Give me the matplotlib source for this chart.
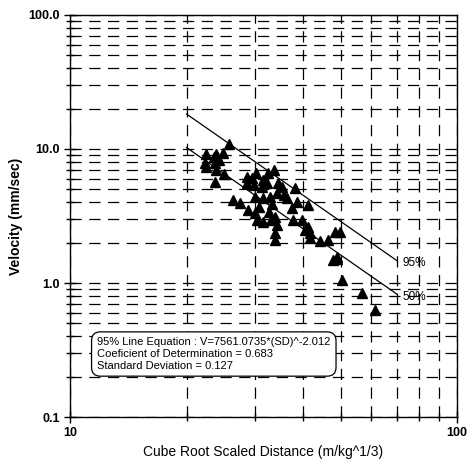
import matplotlib
matplotlib.use('Agg')
import matplotlib.pyplot as plt
import numpy as np

plt.rcParams['font.family'] = ['Liberation Sans', 'DejaVu Sans']

# scaled distance (m/kg^1/3) and peak velocity (mm/sec)
sd = [25.8, 22.5, 23.9, 24.8, 23.5, 22.3, 23.7, 24.3, 22.5, 23.9,
      25.0, 23.7, 26.4, 27.5, 28.9, 28.6, 30.2, 31.6, 32.5, 33.7,
      29.8, 31.3, 32.2, 34.5, 30.1, 31.6, 32.9, 34.2, 35.2, 36.3,
      30.1, 30.4, 31.6, 33.0, 33.9, 34.2, 33.9, 33.9, 38.1, 38.5,
      37.4, 37.8, 39.7, 41.3, 40.5, 41.3, 41.7, 41.7, 44.3, 46.5,
      48.4, 49.9, 47.9, 49.1, 48.9, 50.4, 56.7, 61.4, 28.6, 30.8,
      33.3, 35.8, 29.5, 32.6]
vel = [10.9, 9.18, 9.18, 9.28, 8.77, 7.82, 7.82, 8.28, 7.38, 6.97,
       6.51, 5.70, 4.16, 3.93, 3.51, 6.22, 6.58, 5.87, 6.58, 6.97,
       5.39, 5.24, 5.54, 5.54, 4.41, 4.28, 4.41, 4.67, 5.24, 4.28,
       3.31, 2.95, 2.87, 2.95, 3.13, 2.71, 2.35, 2.09, 5.09, 4.05,
       3.61, 2.95, 2.95, 3.82, 2.49, 2.63, 2.35, 2.18, 2.07, 2.09,
       2.42, 2.42, 1.48, 1.50, 1.57, 1.05, 0.837, 0.629, 5.54, 3.70,
       3.90, 4.50, 6.10, 3.40]

# attenuation lines V = k * SD^b
k95 = 7561.0735
k50 = 4250.0
b = -2.012
line_sd = [20, 70]

fig = plt.figure(figsize=(4.68, 4.67), dpi=100)
ax = fig.add_axes([0.1496, 0.107, 0.8269, 0.861])
ax.set_xscale('log')
ax.set_yscale('log')
ax.set_xlim(10, 100)
ax.set_ylim(0.1, 100)

ax.grid(True, which='both', color='black', linestyle=(0, (9, 6)), linewidth=0.9)
ax.set_axisbelow(True)

xs = np.array(line_sd, dtype=float)
ax.plot(xs, k95 * xs ** b, color='black', linewidth=0.9)
ax.plot(xs, k50 * xs ** b, color='black', linewidth=0.9)
ax.plot(sd, vel, '^', color='black', markersize=7.5, linestyle='none')

ax.text(72.4, 1.41, '95%', fontsize=8.5, ha='left', va='center')
ax.text(72.4, 0.787, '50%', fontsize=8.5, ha='left', va='center')

ax.text(0.07, 0.198,
        "95% Line Equation : V=7561.0735*(SD)^-2.012\n"
        "Coeficient of Determination = 0.683\n"
        "Standard Deviation = 0.127",
        transform=ax.transAxes, fontsize=8, ha='left', va='top', linespacing=1.2,
        bbox=dict(boxstyle='round,pad=0.5,rounding_size=0.8', facecolor='white',
                  edgecolor='black', linewidth=0.9))

ax.set_xticks([10, 100])
ax.set_xticklabels(['10', '100'])
ax.set_yticks([0.1, 1, 10, 100])
ax.set_yticklabels(['0.1', '1.0', '10.0', '100.0'])
ax.tick_params(which='major', direction='inout', length=8, width=1, labelsize=9)
ax.tick_params(which='minor', direction='inout', length=6, width=1, labelleft=False, labelbottom=False)
for lbl in ax.get_xticklabels() + ax.get_yticklabels():
    lbl.set_fontweight('bold')

ax.set_xlabel('Cube Root Scaled Distance (m/kg^1/3)', fontsize=10, labelpad=4)
ax.set_ylabel('Velocity (mm/sec)', fontsize=10, fontweight='bold', labelpad=4)

for s in ax.spines.values():
    s.set_linewidth(1)

fig.savefig('out.png', dpi=100)
